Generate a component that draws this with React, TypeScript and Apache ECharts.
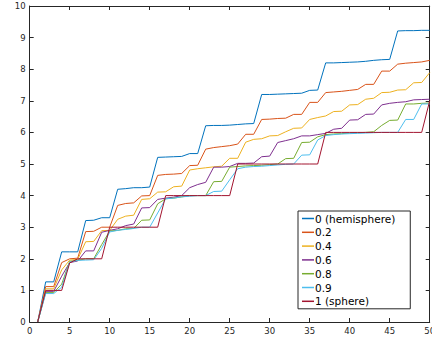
import React, { useEffect, useRef } from "react";
import * as echarts from "echarts";

// Sample index (x) shared by every curve
const xs: number[] = Array.from({ length: 50 }, (_, i) => i + 1);

const seriesNames: string[] = ["0 (hemisphere)", "0.2", "0.4", "0.6", "0.8", "0.9", "1 (sphere)"];
const seriesColors: string[] = ["#0072BD", "#D95319", "#EDB120", "#7E2F8E", "#77AC30", "#4DBEEE", "#A2142F"];

const hemisphere: number[] = [
  0, 1.27, 1.27, 2.22, 2.22, 2.22, 3.21, 3.22, 3.3, 3.3,
  4.2, 4.22, 4.25, 4.25, 4.27, 5.21, 5.22, 5.23, 5.24, 5.33,
  5.33, 6.21, 6.22, 6.22, 6.23, 6.25, 6.27, 6.28, 7.2, 7.2,
  7.21, 7.22, 7.23, 7.24, 7.33, 7.34, 8.2, 8.2, 8.21, 8.22,
  8.23, 8.25, 8.28, 8.3, 8.31, 9.21, 9.22, 9.22, 9.23, 9.23,
];
const p02: number[] = [
  0, 1.12, 1.12, 1.88, 2.0, 2.02, 2.86, 2.87, 3.0, 3.0,
  3.69, 3.75, 3.77, 3.99, 4.0, 4.64, 4.67, 4.68, 4.7, 4.95,
  4.96, 5.47, 5.52, 5.55, 5.58, 5.63, 5.94, 5.94, 6.41, 6.42,
  6.44, 6.45, 6.57, 6.57, 6.95, 6.95, 7.26, 7.28, 7.3, 7.33,
  7.36, 7.52, 7.52, 7.94, 7.94, 8.16, 8.19, 8.21, 8.23, 8.28,
];
const p04: number[] = [
  0, 1.05, 1.05, 1.65, 1.96, 1.98, 2.54, 2.55, 2.89, 2.9,
  3.25, 3.35, 3.38, 3.88, 3.9, 4.11, 4.12, 4.28, 4.3, 4.81,
  4.85, 4.88, 4.91, 4.93, 5.18, 5.18, 5.69, 5.78, 5.8, 5.89,
  5.9, 6.02, 6.13, 6.14, 6.41, 6.47, 6.52, 6.66, 6.67, 6.87,
  6.88, 7.05, 7.08, 7.26, 7.27, 7.34, 7.35, 7.57, 7.58, 7.89,
];
const p06: number[] = [
  0, 0.97, 0.97, 1.45, 1.88, 1.93, 2.25, 2.25, 2.84, 2.9,
  2.95, 3.05, 3.1, 3.61, 3.62, 3.88, 3.92, 3.95, 4.0, 4.25,
  4.35, 4.42, 4.9, 4.9, 4.92, 5.02, 5.02, 5.03, 5.23, 5.25,
  5.68, 5.74, 5.8, 5.89, 5.89, 5.93, 5.97, 6.1, 6.13, 6.39,
  6.4, 6.57, 6.58, 6.87, 6.92, 6.95, 6.97, 7.03, 7.04, 7.05,
];
const p08: number[] = [
  0, 0.93, 0.93, 1.2, 1.92, 1.95, 2.0, 2.0, 2.45, 2.88,
  2.9, 2.95, 2.96, 3.22, 3.23, 3.74, 3.9, 3.92, 3.96, 4.0,
  4.0, 4.0, 4.44, 4.45, 4.9, 4.92, 4.94, 4.95, 4.96, 4.98,
  5.0, 5.17, 5.18, 5.68, 5.69, 5.86, 5.93, 5.95, 5.96, 5.98,
  5.99, 6.0, 6.02, 6.22, 6.38, 6.39, 6.9, 6.9, 6.92, 6.93,
];
const p09: number[] = [
  0, 0.9, 0.9, 1.1, 1.9, 1.95, 1.96, 1.97, 2.33, 2.85,
  2.9, 2.93, 2.96, 3.0, 3.0, 3.45, 3.9, 3.92, 3.96, 3.98,
  4.0, 4.0, 4.13, 4.14, 4.5, 4.85, 4.9, 4.92, 4.93, 4.95,
  4.97, 4.99, 5.0, 5.28, 5.29, 5.76, 5.9, 5.93, 5.95, 5.96,
  5.97, 5.98, 5.99, 6.0, 6.0, 6.0, 6.41, 6.41, 6.9, 6.9,
];
const sphere: number[] = [
  0, 1.0, 1.0, 1.0, 1.87, 2.0, 2.0, 2.0, 2.0, 3.0,
  3.0, 3.0, 3.0, 3.0, 3.0, 3.0, 4.0, 4.0, 4.0, 4.0,
  4.0, 4.0, 4.0, 4.0, 4.0, 5.0, 5.0, 5.0, 5.0, 5.0,
  5.0, 5.0, 5.0, 5.0, 5.0, 5.0, 6.0, 6.0, 6.0, 6.0,
  6.0, 6.0, 6.0, 6.0, 6.0, 6.0, 6.0, 6.0, 6.0, 7.0,
];

const allValues: number[][] = [hemisphere, p02, p04, p06, p08, p09, sphere];

const AXIS_COLOR = "#262626";
const FONT = "DejaVu Sans";

export default function App() {
  const ref = useRef<HTMLDivElement>(null);

  useEffect(() => {
    if (!ref.current) return;
    const chart = echarts.init(ref.current, undefined, { renderer: "svg" });

    const axisCommon = {
      type: "value" as const,
      axisLine: { show: true, onZero: false, lineStyle: { color: AXIS_COLOR, width: 1 } },
      axisTick: { show: true, inside: true, length: 4, lineStyle: { color: AXIS_COLOR, width: 1 } },
      splitLine: { show: false },
    };

    const labelStyle = {
      fontFamily: FONT,
      fontSize: 8.5,
      color: AXIS_COLOR,
      showMinLabel: true,
      showMaxLabel: true,
    };

    // Plot box shared by the labelled axes (grid 0) and the mirrored top/right axes (grid 1)
    const box = { left: 29.7, right: 2.3, top: 6, bottom: 15, containLabel: false, outerBoundsMode: "none" };

    chart.setOption({
      animation: false,
      backgroundColor: "#ffffff",
      grid: [{ ...box }, { ...box }],
      xAxis: [
        {
          ...axisCommon,
          gridIndex: 0,
          position: "bottom",
          min: 0,
          max: 50,
          interval: 5,
          axisLabel: { ...labelStyle, margin: 4.5 },
        },
        { ...axisCommon, gridIndex: 1, position: "top", min: 0, max: 50, interval: 5, axisLabel: { show: false } },
      ],
      yAxis: [
        {
          ...axisCommon,
          gridIndex: 0,
          position: "left",
          min: 0,
          max: 10,
          interval: 1,
          axisLabel: { ...labelStyle, margin: 4 },
        },
        { ...axisCommon, gridIndex: 1, position: "right", min: 0, max: 10, interval: 1, axisLabel: { show: false } },
      ],
      legend: {
        orient: "vertical",
        left: 298,
        top: 211,
        padding: [1.5, 15, 1.5, 4],
        itemGap: 1.8,
        itemWidth: 12,
        itemHeight: 1.5,
        icon: "rect",
        borderColor: AXIS_COLOR,
        borderWidth: 1,
        backgroundColor: "#ffffff",
        textStyle: { fontFamily: FONT, fontSize: 10.5, color: "#000000", lineHeight: 12, padding: [0, 0, 0, -4] },
        data: seriesNames,
      },
      series: allValues.map((vals, i) => ({
        name: seriesNames[i],
        type: "line",
        xAxisIndex: 0,
        yAxisIndex: 0,
        data: xs.map((x, j) => [x, vals[j]]),
        showSymbol: false,
        symbol: "none",
        color: seriesColors[i],
        lineStyle: { width: 1, color: seriesColors[i] },
        z: 2 + i,
      })),
    });

    return () => chart.dispose();
  }, []);

  return (
    <div
      ref={ref}
      style={{ position: "fixed", left: 0, top: 0, width: 432, height: 337 }}
    />
  );
}
